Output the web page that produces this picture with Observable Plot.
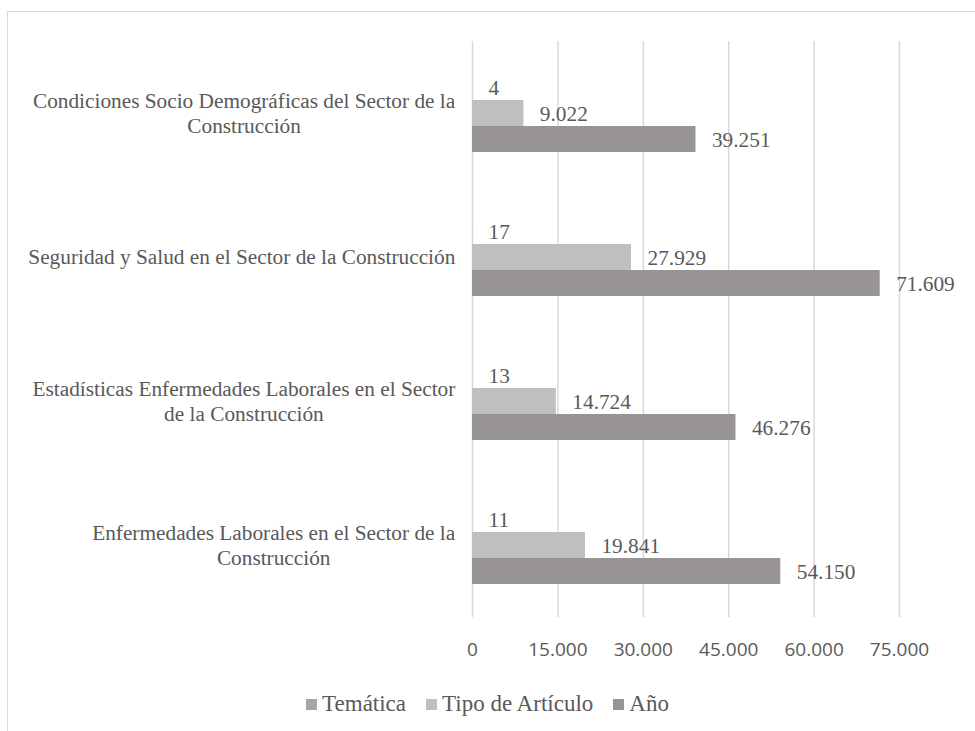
<!DOCTYPE html>
<html>
<head>
<meta charset="utf-8">
<script src="https://cdn.jsdelivr.net/npm/d3@7"></script>
<script src="https://cdn.jsdelivr.net/npm/@observablehq/plot@0.6"></script>
<style>
  html, body { margin: 0; padding: 0; background: #fff; }
  #frame { position: relative; width: 975px; height: 731px; overflow: hidden; }
  #border { position: absolute; left: 7px; top: 11px; width: 1000px; height: 760px;
            border: 1.5px solid #d9d9d9; box-sizing: border-box; }
  #chart { position: absolute; left: 0; top: 0; }
  .serif { font-family: "Liberation Serif", "Times New Roman", Times, serif; }
  #chart g[aria-label="x-axis tick label"] text { font-family: "Open Sans", sans-serif; font-size: 19px; fill: #595959; }
  #chart g[aria-label="fy-axis tick label"] text,
  #chart g[aria-label="text"] text {
    font-family: "Liberation Serif", "Times New Roman", Times, serif;
    font-size: 21.3px; fill: #595959;
  }
  #legend { position: absolute; left: 0; width: 975px; top: 691px; display: flex; justify-content: center;
            font-size: 23px; color: #595959; }
  #legend .item { display: flex; align-items: center; margin: 0 10px; }
  #legend .sw { width: 11px; height: 11px; margin-right: 5px; }
</style>
</head>
<body>
<div id="frame">
  <div id="border"></div>
  <div id="chart"></div>
  <div id="legend" class="serif"></div>
</div>
<script>
// Categories (keys) and their display labels, with explicit line breaks
const categories = [
  "Condiciones Socio Demográficas del Sector de la Construcción",
  "Seguridad y Salud en el Sector de la Construcción",
  "Estadísticas Enfermedades Laborales en el Sector de la Construcción",
  "Enfermedades Laborales en el Sector de la Construcción"
];
const categoryLabels = [
  "Condiciones Socio Demográficas del Sector de la\nConstrucción",
  "Seguridad y Salud en el Sector de la Construcción",
  "Estadísticas Enfermedades Laborales en el Sector\nde la Construcción",
  "Enfermedades Laborales en el Sector de la\nConstrucción"
];

// Series
const series = ["Temática", "Tipo de Artículo", "Año"];
const tematica = [4, 17, 13, 11];
const tipoArticulo = [9022, 27929, 14724, 19841];
const anio = [39251, 71609, 46276, 54150];
const seriesColors = ["#a5a5a5", "#bfbfbf", "#989493"];

// Axis ticks
const xTicks = [0, 15000, 30000, 45000, 60000, 75000];

// Spanish number format: dot as thousands separator
const locale = d3.formatLocale({decimal: ",", thousands: ".", grouping: [3], currency: ["", ""]});
const fmt = locale.format(",d");

const valuesBySeries = [tematica, tipoArticulo, anio];
const data = [];
categories.forEach((c, i) => {
  series.forEach((s, j) => data.push({category: c, series: s, value: valuesBySeries[j][i]}));
});

const chart = Plot.plot({
  width: 975,
  height: 672,
  marginLeft: 472,
  marginRight: 76,
  marginTop: 40,
  marginBottom: 54,
  style: {background: "transparent", overflow: "visible"},
  x: {domain: [0, 75000], ticks: xTicks, tickFormat: fmt, tickSize: 0, tickPadding: 25, label: null},
  y: {domain: series, axis: null, paddingInner: 0, paddingOuter: 1.176},
  fy: {domain: categories, padding: 0, axis: "left", label: null, tickSize: 0, tickPadding: 17,
       tickFormat: d => categoryLabels[categories.indexOf(d)]},
  color: {domain: series, range: seriesColors},
  marks: [
    Plot.ruleX(xTicks, {stroke: "#d9d9d9", strokeWidth: 1.5}),
    Plot.barX(data, {fy: "category", y: "series", x: "value", fill: "series"}),
    Plot.text(data, {
      fy: "category", y: "series", x: "value", text: d => fmt(d.value),
      dx: 16, dy: 1, textAnchor: "start", fill: "#595959"
    })
  ]
});
document.getElementById("chart").appendChild(chart);

// Category labels: looser line spacing, each line centred within the label block
const lineHeight = 1.15;
chart.querySelectorAll('g[aria-label="fy-axis tick label"] text').forEach(t => {
  const spans = t.querySelectorAll("tspan");
  const n = spans.length;
  spans.forEach((s, i) => {
    s.removeAttribute("dy");
    s.setAttribute("x", 0);
    s.setAttribute("y", `${((i - (n - 1) / 2) * lineHeight + 0.32).toFixed(3)}em`);
  });
  const w = t.getBBox().width;
  t.setAttribute("text-anchor", "middle");
  const tr = t.getAttribute("transform") || "";
  t.setAttribute("transform", tr + ` translate(${-w / 2},0)`);
});

// Legend
const legend = d3.select("#legend");
series.forEach((s, i) => {
  const item = legend.append("div").attr("class", "item");
  item.append("div").attr("class", "sw").style("background", seriesColors[i]);
  item.append("span").text(s);
});
</script>
</body>
</html>
